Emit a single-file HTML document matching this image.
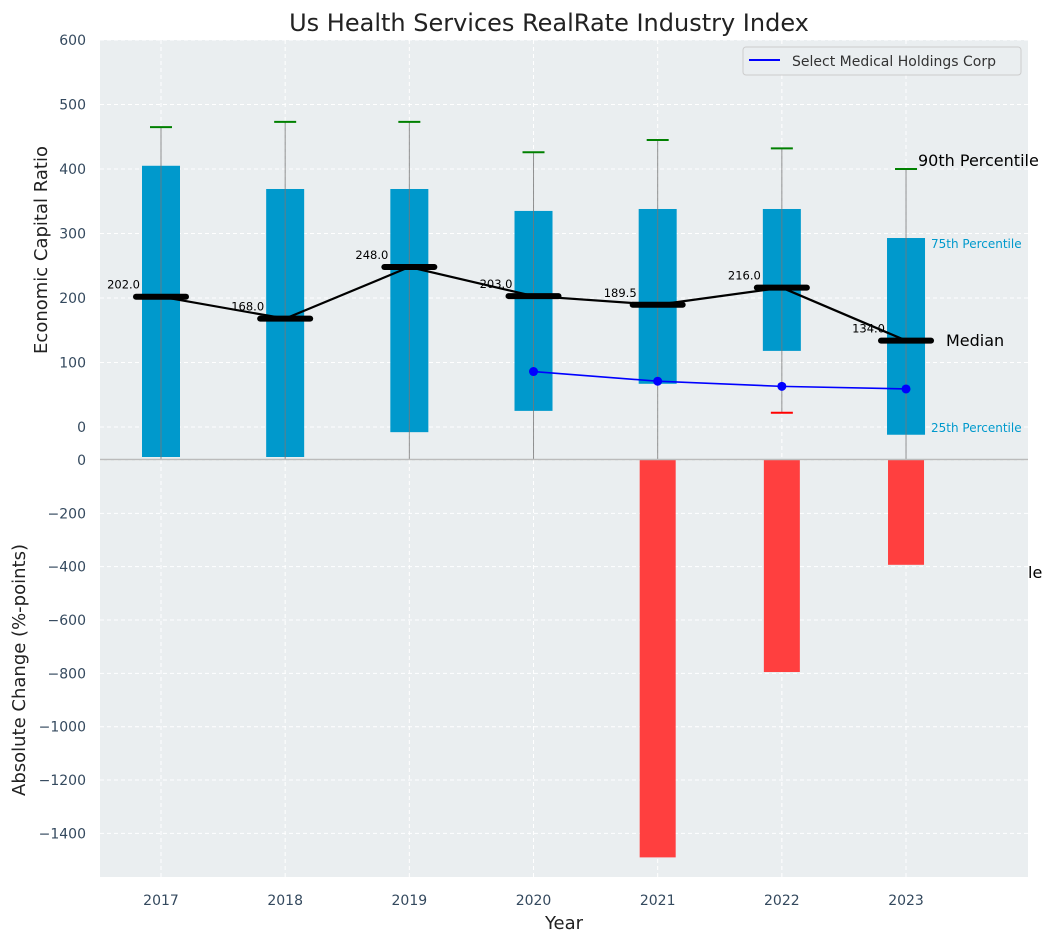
<!DOCTYPE html>
<html><head><meta charset="utf-8"><style>
body{margin:0;background:#fff;}
svg{display:block;font-family:"DejaVu Sans","Liberation Sans",sans-serif;}
</style></head><body>
<svg id="chart" width="1053" height="942"></svg>
<script>
const years=[2017,2018,2019,2020,2021,2022,2023];
const p25=[-50,-50,-8,25,67,118,-12];
const p75=[405,369,369,335,338,338,293];
const p90=[465,473,473,426,445,432,400];
const p10=[-60,-60,-60,-60,-60,22,-60];
const medians=[202,168,248,203,189.5,216,134];
const compYears=[2020,2021,2022,2023];
const compVals=[86,71,63,59];
const changeYears=[2021,2022,2023];
const changeVals=[-1490,-795,-393];
const topTicks=[0,100,200,300,400,500,600];
const botTicks=[0,-200,-400,-600,-800,-1000,-1200,-1400];

const NS="http://www.w3.org/2000/svg";
const svg=document.getElementById('chart');
function el(t,a,p){const e=document.createElementNS(NS,t);for(const k in a)e.setAttribute(k,a[k]);(p||svg).appendChild(e);return e;}
const L=100,R=1028;
const x=v=>161+(v-2017)*124.17;
const yT=v=>427-v*0.645;
const yB=v=>460-v*0.2667;
const topY0=40,topY1=459,botY0=460,botY1=877;

// title
let t=el('text',{x:549,y:31,'text-anchor':'middle','font-size':24,fill:'#222'});t.textContent='Us Health Services RealRate Industry Index';

// backgrounds
let bg=el('rect',{x:L,y:topY0,width:R-L,height:topY1-topY0,fill:'#eaeef0'});

let bg2=el('rect',{x:L,y:botY0,width:R-L,height:botY1-botY0,fill:'#eaeef0'});

// grids
years.forEach(v=>{el('line',{x1:x(v),x2:x(v),y1:topY0,y2:botY1,stroke:'#fff','stroke-dasharray':'4,3'});});
topTicks.forEach(v=>{el('line',{x1:L,x2:R,y1:yT(v),y2:yT(v),stroke:'#fff','stroke-dasharray':'4,3'});
 const tt=el('text',{x:86,y:yT(v)+5,'text-anchor':'end','font-size':14,fill:'#34495e'});tt.textContent=v;
 });
botTicks.forEach(v=>{el('line',{x1:L,x2:R,y1:yB(v),y2:yB(v),stroke:'#fff','stroke-dasharray':'4,3'});
 const tt=el('text',{x:86,y:yB(v)+5,'text-anchor':'end','font-size':14,fill:'#34495e'});tt.textContent=v<0?'\u2212'+(-v):v;
 });
years.forEach(v=>{const tt=el('text',{x:x(v),y:905,'text-anchor':'middle','font-size':14,fill:'#34495e'});tt.textContent=v;
 });
// bars
years.forEach((v,i)=>{
 const top=yT(p75[i]),bot=Math.min(yT(p25[i]),457);
 const b=el('rect',{x:x(v)-19,y:top,width:38,height:bot-top,fill:'#0099cc'});
 
 const wb=Math.min(yT(p10[i]),topY1);
 el('line',{x1:x(v),x2:x(v),y1:yT(p90[i]),y2:wb,stroke:'#777','stroke-width':1,opacity:0.8});
 const c=el('line',{x1:x(v)-11,x2:x(v)+11,y1:yT(p90[i]),y2:yT(p90[i]),stroke:'green','stroke-width':2});
 
 if(yT(p10[i])<topY1){const c2=el('line',{x1:x(v)-11,x2:x(v)+11,y1:yT(p10[i]),y2:yT(p10[i]),stroke:'red','stroke-width':2});
  }
});
// median line
const ml=el('polyline',{points:years.map((v,i)=>x(v)+','+yT(medians[i])).join(' '),fill:'none',stroke:'#000','stroke-width':2.2});

years.forEach((v,i)=>{
 const m=el('line',{x1:x(v)-25,x2:x(v)+25,y1:yT(medians[i]),y2:yT(medians[i]),stroke:'#000','stroke-width':6,'stroke-linecap':'round'});
 
 const lt=el('text',{x:x(v)-21,y:yT(medians[i])-8,'text-anchor':'end','font-size':11.5,fill:'#000'});lt.textContent=medians[i].toFixed(1);
 
});
// company line
const cl=el('polyline',{points:compYears.map((v,i)=>x(v)+','+yT(compVals[i])).join(' '),fill:'none',stroke:'#0000ff','stroke-width':1.6});

compYears.forEach((v,i)=>{const p=el('circle',{cx:x(v),cy:yT(compVals[i]),r:4.5,fill:'#0000ff'});
 });
// change bars
changeYears.forEach((v,i)=>{const b=el('rect',{x:x(v)-18,y:yB(0),width:36,height:yB(changeVals[i])-yB(0),fill:'#ff3f3f'});
 });
// separator
el('line',{x1:L,x2:R,y1:459.5,y2:459.5,stroke:'#bbb','stroke-width':1.5});
// annotations
[['90th Percentile',918,166,16,'#000'],['75th Percentile',931,248,12,'#0099cc'],['Median',946,346,16,'#000'],['25th Percentile',931,432,12,'#0099cc'],['le',1028,578,16,'#000']].forEach(a=>{
 const tt=el('text',{x:a[1],y:a[2],'font-size':a[3],fill:a[4]});tt.textContent=a[0];
 });
// cover beyond right
el('rect',{x:1044,y:540,width:10,height:60,fill:'#fff'});
// legend
const lg=el('g',{});
el('rect',{x:743,y:47,width:278,height:28,rx:3,fill:'#eaeef0',stroke:'#ccc'},lg);
el('line',{x1:749,x2:780,y1:60,y2:60,stroke:'#0000ff','stroke-width':2},lg);
const lt=el('text',{x:792,y:66,'font-size':14,fill:'#333'},lg);lt.textContent='Select Medical Holdings Corp';
// axis titles
let a1=el('text',{x:0,y:0,transform:'translate(47,250) rotate(-90)','text-anchor':'middle','font-size':18,fill:'#222'});a1.textContent='Economic Capital Ratio';

let a2=el('text',{x:0,y:0,transform:'translate(25,670) rotate(-90)','text-anchor':'middle','font-size':18,fill:'#222'});a2.textContent='Absolute Change (%-points)';

let a3=el('text',{x:564,y:929,'text-anchor':'middle','font-size':18,fill:'#222'});a3.textContent='Year';

</script>
</body></html>
